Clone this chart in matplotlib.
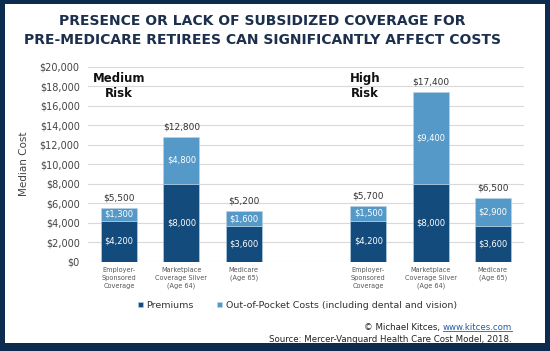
import numpy as np
import matplotlib.pyplot as plt
from matplotlib.patches import Rectangle

# Data
categories = ['Employer-\nSponsored\nCoverage', 'Marketplace\nCoverage Silver\n(Age 64)', 'Medicare\n(Age 65)']
groups = ['Medium\nRisk', 'High\nRisk']
premiums = [4200, 8000, 3600, 4200, 8000, 3600]
out_of_pocket = [1300, 4800, 1600, 1500, 9400, 2900]
totals = [5500, 12800, 5200, 5700, 17400, 6500]

NAVY = '#0d2b4f'
DARK = '#134b7c'
LIGHT = '#5599c8'

fig = plt.figure(figsize=(5.5, 3.51), dpi=100)
fig.patch.set_facecolor(NAVY)
# white card inside the navy frame
fig.add_artist(Rectangle((5/550, 8/351), 540/550, 339/351, transform=fig.transFigure,
                         facecolor='white', edgecolor='none', zorder=-5))

ax = fig.add_axes([88/550, 1 - 261.5/351, 436/550, 194.5/351])
ax.set_facecolor('none')
ax.set_zorder(2)

x = np.array([0, 1, 2, 4, 5, 6])
w = 0.58
ax.bar(x, premiums, w, color=DARK, edgecolor='#bcd3e6', linewidth=0.4, label='Premiums', zorder=3)
ax.bar(x, out_of_pocket, w, bottom=premiums, color=LIGHT, edgecolor='#bcd3e6', linewidth=0.4,
       label='Out-of-Pocket Costs (including dental and vision)', zorder=3)

for xi, p, o, t in zip(x, premiums, out_of_pocket, totals):
    ax.text(xi, p / 2, f'${p:,}', ha='center', va='center', color='white', fontsize=6, zorder=4)
    ax.text(xi, p + o / 2, f'${o:,}', ha='center', va='center', color='white', fontsize=6, zorder=4)
    ax.text(xi, t + 550, f'${t:,}', ha='center', va='bottom', color='#333333', fontsize=6.5, zorder=4)

ax.set_xlim(-0.5, 6.5)
ax.set_ylim(0, 20000)
ax.set_yticks(np.arange(0, 20001, 2000))
ax.set_yticklabels([f'${v:,}' for v in range(0, 20001, 2000)], fontsize=7, color='#444444')
ax.set_xticks(x)
ax.set_xticklabels(categories * 2, fontsize=4.7, color='#555555', linespacing=1.35)
ax.tick_params(axis='both', length=0, pad=4)
ax.tick_params(axis='y', pad=6)
ax.grid(axis='y', color='#d9d9d9', linewidth=0.8, zorder=0)
for s in ax.spines.values():
    s.set_visible(False)
ax.set_ylabel('Median Cost', fontsize=7.5, color='#444444', labelpad=8)

# group labels
ax.text(0, 18050, groups[0], ha='center', va='center', fontsize=8.5, fontweight='bold',
        color='#111111', linespacing=1.2)
ax.text(3.95, 18050, groups[1], ha='center', va='center', fontsize=8.5, fontweight='bold',
        color='#111111', linespacing=1.2)

fig.text(262/550, 1 - 30.5/351, 'PRESENCE OR LACK OF SUBSIDIZED COVERAGE FOR\nPRE-MEDICARE RETIREES CAN SIGNIFICANTLY AFFECT COSTS',
         ha='center', va='center', fontsize=10, fontweight='bold', color='#1c2f4d', linespacing=1.4)

leg = ax.legend(loc='center', bbox_to_anchor=(0.48, -0.225), ncol=2, frameon=False,
                fontsize=6.8, handlelength=0.55, handleheight=0.55, handletextpad=0.35,
                columnspacing=2.5)
for t in leg.get_texts():
    t.set_color('#333333')

# source lines, with the link in blue
link = fig.text(512/550, 1 - 327.5/351, 'www.kitces.com', ha='right', va='center', fontsize=6.2,
                color='#1f5fa8')
renderer = fig.canvas.get_renderer()
bb = link.get_window_extent(renderer)
fig.add_artist(plt.Line2D([bb.x0 / 550, bb.x1 / 550], [(bb.y0 + 1) / 351] * 2,
                          transform=fig.transFigure, color='#1f5fa8', linewidth=0.6))
fig.text((bb.x0 - 3) / 550, 1 - 327.5/351, '© Michael Kitces,', ha='right', va='center',
         fontsize=6.2, color='#222222')
fig.text(512/550, 1 - 340/351, 'Source: Mercer-Vanguard Health Care Cost Model, 2018.',
         ha='right', va='center', fontsize=6.2, color='#222222')

fig.savefig('out.png', dpi=100, facecolor=fig.get_facecolor())
